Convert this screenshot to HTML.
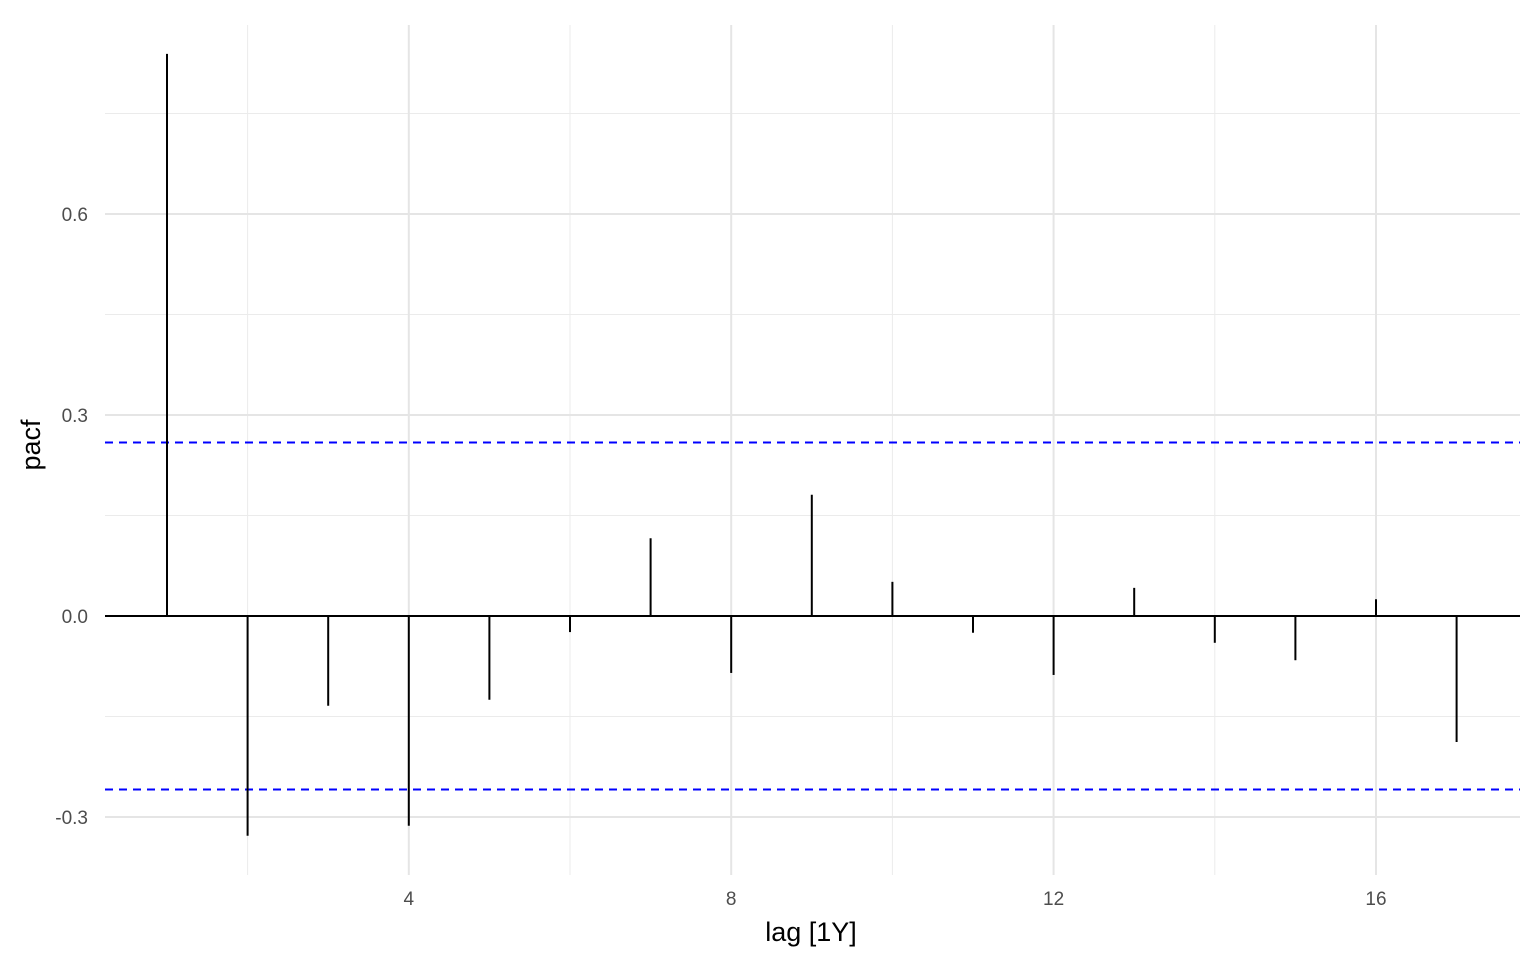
<!DOCTYPE html>
<html><head><meta charset="utf-8"><style>
body{margin:0;background:#fff;}
svg{display:block;font-family:"Liberation Sans",Arial,sans-serif;}
</style></head><body>
<svg id="chart" width="1536" height="960"></svg>
<script>
const lags=[1,2,3,4,5,6,7,8,9,10,11,12,13,14,15,16,17];
const pacfValues=[0.839,-0.328,-0.134,-0.313,-0.125,-0.024,0.116,-0.085,0.181,0.051,-0.025,-0.088,0.042,-0.040,-0.066,0.025,-0.188];
const ciBound=0.259;
const xTicks=[4,8,12,16];
const xMinor=[2,6,10,14];
const yTicks=[-0.3,0,0.3,0.6];
const yTickLabels=["-0.3","0.0","0.3","0.6"];
const yMinor=[-0.15,0.15,0.45,0.75];

const NS="http://www.w3.org/2000/svg";
const svg=document.getElementById('chart');
const xs=v=>167+(v-1)*80.6;
const ys=v=>616-v*670;
const L=105,R=1520,T=25,B=875;
function mk(tag,attrs,parent){const e=document.createElementNS(NS,tag);for(const k in attrs)e.setAttribute(k,attrs[k]);(parent||svg).appendChild(e);return e;}

const grid=mk('g',{});


yMinor.forEach(v=>mk('line',{x1:L,x2:R,y1:ys(v),y2:ys(v),stroke:'#ebebeb','stroke-width':1},grid));
xMinor.forEach(v=>mk('line',{x1:xs(v),x2:xs(v),y1:T,y2:B,stroke:'#ebebeb','stroke-width':1},grid));
yTicks.forEach(v=>mk('line',{x1:L,x2:R,y1:ys(v),y2:ys(v),stroke:'#e5e5e5','stroke-width':2},grid));
xTicks.forEach(v=>mk('line',{x1:xs(v),x2:xs(v),y1:T,y2:B,stroke:'#e5e5e5','stroke-width':2},grid));

yTicks.forEach((v,i)=>{const t=mk('text',{x:88,y:ys(v)+7,'text-anchor':'end','font-size':19,fill:'#4d4d4d'});t.textContent=yTickLabels[i];

});
xTicks.forEach(v=>{const t=mk('text',{x:xs(v),y:905,'text-anchor':'middle','font-size':19,fill:'#4d4d4d'});t.textContent=String(v);

});

[ciBound,-ciBound].forEach(v=>{const l=mk('line',{x1:L,x2:R,y1:ys(v),y2:ys(v),stroke:'#0000ff','stroke-width':2,'stroke-dasharray':'8,6'});

});

const z=mk('line',{x1:L,x2:R,y1:ys(0),y2:ys(0),stroke:'#000','stroke-width':2});



lags.forEach((lag,i)=>{const l=mk('line',{x1:xs(lag),x2:xs(lag),y1:ys(0),y2:ys(pacfValues[i]),stroke:'#000','stroke-width':2});

});

const xt=mk('text',{x:811,y:941,'text-anchor':'middle','font-size':27,fill:'#000'});xt.textContent='lag [1Y]';


const yt=mk('text',{x:0,y:0,'text-anchor':'middle','font-size':27,fill:'#000',transform:'translate(40,445) rotate(-90)'});yt.textContent='pacf';


</script>
</body></html>
